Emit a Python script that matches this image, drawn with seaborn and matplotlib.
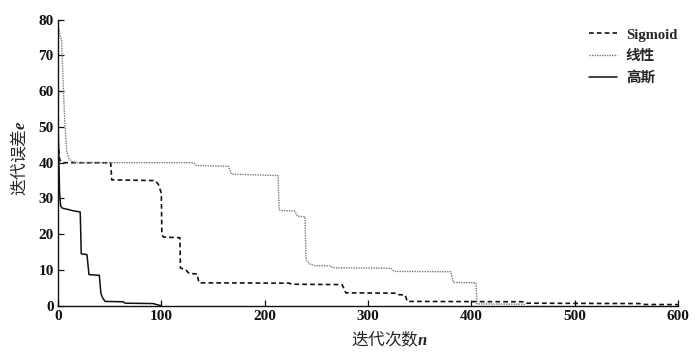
import matplotlib
matplotlib.use("Agg")
import matplotlib.pyplot as plt
import seaborn as sns
import pandas as pd

# ---- data ----
sig_x = [0, 1.5, 3, 5, 51, 52, 94, 97, 100, 100.5, 102, 118, 118.5, 123, 127, 134.5,
         136.5, 224, 226, 275, 278.5, 327, 329, 336, 338, 452, 454, 563, 565, 600]
sig_y = [46, 41, 40.2, 40, 40, 35.2, 35, 34, 31.5, 20, 19.2, 19, 10.5, 10.2, 9, 8.9,
         6.4, 6.3, 6.0, 5.9, 3.6, 3.5, 3.1, 3.0, 1.2, 1.1, 0.7, 0.6, 0.35, 0.3]

lin_x = [0, 1.5, 3.5, 5, 6.5, 8.5, 10.5, 13, 16, 21, 131, 134, 165, 168, 213, 214,
         216, 229, 232, 239, 240, 244, 249, 264, 266, 322, 325, 380, 382.5, 404.5,
         405.5, 452]
lin_y = [79, 76, 74.3, 62, 52, 43, 41.2, 40.4, 40.1, 40, 40, 39.2, 39, 36.8, 36.4, 26.8,
         26.6, 26.5, 25, 24.9, 12.8, 11.6, 11.2, 11.1, 10.6, 10.5, 9.6, 9.5, 6.5, 6.4,
         0.5, 0.4]

gau_x = [0, 0.5, 1.5, 2.5, 4, 10, 14, 21.5, 22.5, 28, 30, 40, 41.5, 43, 45.5, 63, 65,
         92, 97, 100]
gau_y = [53, 45, 32, 28, 27.3, 26.9, 26.6, 26.2, 14.5, 14.3, 8.7, 8.5, 3.5, 2.3, 1.2,
         1.1, 0.7, 0.6, 0.2, 0.0]

series_names = ["Sigmoid", "线性", "高斯"]
x_ticks = [0, 100, 200, 300, 400, 500, 600]
y_ticks = [0, 10, 20, 30, 40, 50, 60, 70, 80]
x_label = "迭代次数$n$"
y_label = "迭代误差$e$"

# ---- style ----
sns.set_theme(style="ticks")
fams = ["Liberation Serif", "Noto Sans CJK SC", "DejaVu Sans"]
plt.rcParams["font.family"] = fams
plt.rcParams["mathtext.fontset"] = "custom"
plt.rcParams["mathtext.rm"] = "Noto Sans CJK SC"
plt.rcParams["mathtext.it"] = "Liberation Serif:italic:bold"
plt.rcParams["xtick.direction"] = "in"
plt.rcParams["ytick.direction"] = "in"

fig = plt.figure(figsize=(7.0, 3.56), dpi=100)
ax = fig.add_axes([58 / 700, 1 - 305.7 / 356, 620 / 700, (305.7 - 19.7) / 356])

frames = {
    "Sigmoid": pd.DataFrame({"x": sig_x, "y": sig_y}),
    "线性": pd.DataFrame({"x": lin_x, "y": lin_y}),
    "高斯": pd.DataFrame({"x": gau_x, "y": gau_y}),
}
styles = {
    "Sigmoid": dict(color="#111111", lw=1.2, ls=(0, (2.8, 1.9))),
    "线性": dict(color="#7a7a7a", lw=1.0, ls=(0, (1.0, 0.8))),
    "高斯": dict(color="#111111", lw=1.1, ls="-"),
}
for name in series_names:
    st = styles[name]
    sns.lineplot(data=frames[name], x="x", y="y", ax=ax, sort=False, estimator=None,
                 color=st["color"], linewidth=st["lw"], linestyle=st["ls"], label=name)

ax.set_xlim(0, 600)
ax.set_ylim(0, 80)
ax.set_xticks(x_ticks)
ax.set_yticks(y_ticks)
ax.tick_params(axis="both", length=4, width=0.9, labelsize=11, pad=3, colors="#111111")
for lab in ax.get_xticklabels() + ax.get_yticklabels():
    lab.set_fontweight("bold")
for s in ["top", "right"]:
    ax.spines[s].set_visible(False)
for s in ["left", "bottom"]:
    ax.spines[s].set_linewidth(1.0)
    ax.spines[s].set_color("#111111")

ax.set_xlabel(x_label, fontsize=12, family="Noto Sans CJK SC")
ax.set_ylabel(y_label, fontsize=12, family="Noto Sans CJK SC")
ax.xaxis.set_label_coords(0.535, -0.08)
ax.yaxis.set_label_coords(-0.046, 0.515)

leg = ax.legend(loc="upper right", bbox_to_anchor=(1.008, 0.99), frameon=False,
                prop={"size": 10.5, "weight": "bold", "family": fams},
                handlelength=1.9, handletextpad=0.6, labelspacing=0.55,
                borderaxespad=0.1, borderpad=0.3)

fig.savefig("out.png", dpi=100)
